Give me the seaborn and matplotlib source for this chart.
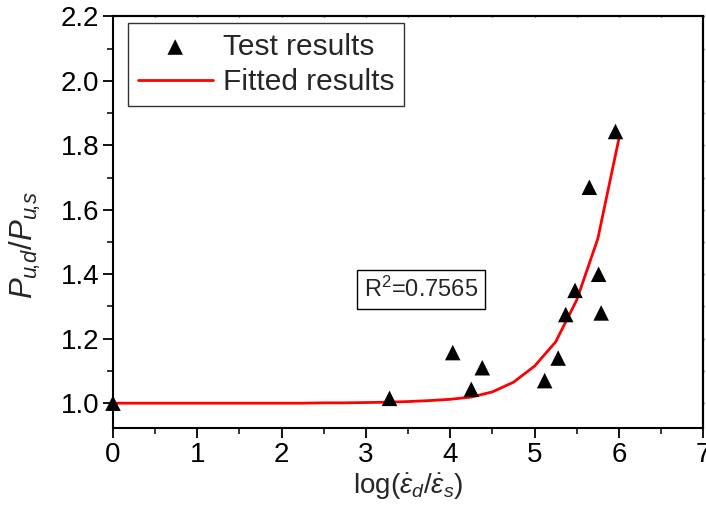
import matplotlib
matplotlib.use("Agg")
import matplotlib.pyplot as plt
from matplotlib.ticker import MultipleLocator
import seaborn as sns
import pandas as pd

# Measured ultimate-load ratios
test_x = [0.0, 3.28, 4.03, 4.25, 4.38, 5.12, 5.28, 5.37, 5.48, 5.65, 5.76, 5.79, 5.96]
test_y = [1.00, 1.015, 1.157, 1.043, 1.11, 1.07, 1.14, 1.275, 1.35, 1.67, 1.40, 1.28, 1.843]

# Fitted curve, sampled every 0.25
fit_x = [0.0, 0.25, 0.5, 0.75, 1.0, 1.25, 1.5, 1.75, 2.0, 2.25, 2.5, 2.75, 3.0,
         3.25, 3.5, 3.75, 4.0, 4.25, 4.5, 4.75, 5.0, 5.25, 5.5, 5.75, 6.0]
fit_y = [1.0, 1.0, 1.0, 1.0, 1.0, 1.0, 1.0, 1.0, 1.0, 1.0, 1.001, 1.001, 1.002,
         1.003, 1.005, 1.008, 1.012, 1.019, 1.035, 1.065, 1.115, 1.19, 1.32, 1.51, 1.82]

r2_text = "R$^2$=0.7565"
x_ticks = [0, 1, 2, 3, 4, 5, 6, 7]
y_ticks = [1.0, 1.2, 1.4, 1.6, 1.8, 2.0, 2.2]

sns.set_theme(style="ticks")
plt.rcParams["font.family"] = ["Liberation Sans", "DejaVu Sans"]
plt.rcParams["mathtext.fontset"] = "custom"
plt.rcParams["mathtext.rm"] = "Liberation Sans"
plt.rcParams["mathtext.it"] = "Liberation Sans:italic"
plt.rcParams["mathtext.bf"] = "Liberation Sans:bold"

test_df = pd.DataFrame({"x": test_x, "y": test_y})
fit_df = pd.DataFrame({"x": fit_x, "y": fit_y})

fig = plt.figure(figsize=(7.06, 5.31), dpi=100)
ax = fig.add_axes([0.160, 0.194, 0.836, 0.775])

sns.lineplot(data=fit_df, x="x", y="y", ax=ax, color="#ff0000", lw=2,
             label="Fitted results", zorder=2, sort=False)
sns.scatterplot(data=test_df, x="x", y="y", ax=ax, marker="^", s=125,
                color="black", edgecolor="none", label="Test results",
                zorder=3, clip_on=False)

ax.set_xlim(0, 7)
ax.set_ylim(0.923, 2.2)
ax.set_xticks(x_ticks)
ax.set_yticks(y_ticks)
ax.set_xticklabels([str(t) for t in x_ticks])
ax.set_yticklabels([f"{t:.1f}" for t in y_ticks])
ax.xaxis.set_minor_locator(MultipleLocator(0.5))
ax.yaxis.set_minor_locator(MultipleLocator(0.1))
ax.tick_params(axis="both", which="major", direction="out", length=7, width=1.3,
               labelsize=20, colors="black", pad=3)
ax.tick_params(axis="both", which="minor", direction="out", length=4, width=1.3)

# Short ticks on the opposite spines
sec_x = ax.secondary_xaxis("top")
sec_x.set_xticks(x_ticks)
sec_x.xaxis.set_minor_locator(MultipleLocator(0.5))
sec_x.tick_params(which="both", direction="inout", length=2, width=1, labeltop=False)
sec_y = ax.secondary_yaxis("right")
sec_y.set_yticks(y_ticks)
sec_y.yaxis.set_minor_locator(MultipleLocator(0.1))
sec_y.tick_params(which="both", direction="inout", length=2, width=1, labelright=False)

for sp in ax.spines.values():
    sp.set_linewidth(1.5)
    sp.set_color("black")
for s in (sec_x, sec_y):
    for sp in s.spines.values():
        sp.set_linewidth(1.5)

ax.set_xlabel(r"log($\dot{\varepsilon}_d/\dot{\varepsilon}_s$)", fontsize=20, labelpad=3)
ax.set_ylabel(r"$P_{u\!,\!d}/P_{u\!,\!s}$", fontsize=22.5)
ax.yaxis.set_label_coords(-0.118, 0.445)

handles, labels = ax.get_legend_handles_labels()
order = [labels.index("Test results"), labels.index("Fitted results")]
leg = ax.legend([handles[i] for i in order], [labels[i] for i in order],
                loc="upper left", bbox_to_anchor=(128 / 706, 1 - 23 / 531),
                bbox_transform=fig.transFigure, fontsize=21.5,
                frameon=True, fancybox=False, edgecolor="black",
                handlelength=2.5, handletextpad=0.35, borderpad=0.33,
                labelspacing=0.25, borderaxespad=0.0)
leg.get_frame().set_linewidth(1.0)

ax.text(3.65, 1.352, r2_text, fontsize=17, ha="center", va="center",
        bbox=dict(boxstyle="square,pad=0.3", facecolor="white",
                  edgecolor="black", linewidth=1.0))

fig.savefig("out.png", dpi=100)
